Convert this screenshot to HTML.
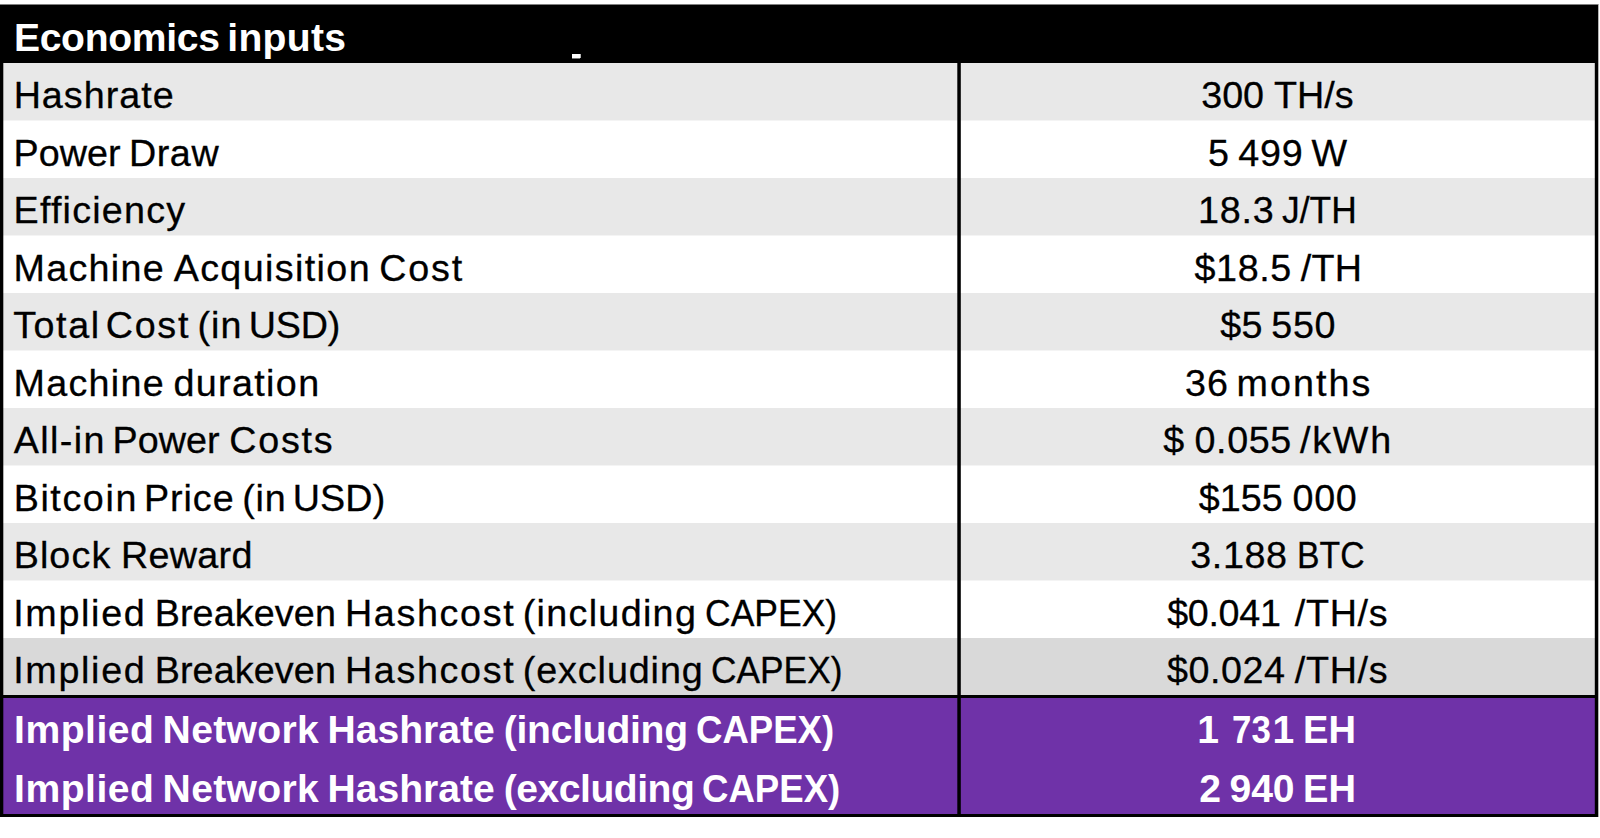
<!DOCTYPE html>
<html lang="en"><head><meta charset="utf-8"><title>Economics inputs</title>
<style>
html,body{margin:0;padding:0;background:#fff;}
body{width:1600px;height:838px;position:relative;overflow:hidden;font-family:"Liberation Sans",sans-serif;color:#000;}
.tbl{position:absolute;left:0;top:5px;width:1598px;height:812px;background:#000;}
.te{position:absolute;left:0;top:4px;width:1598px;height:1px;background:rgba(0,0,0,.5);}
.re{position:absolute;left:1598px;top:4px;width:1px;height:813px;background:rgba(0,0,0,.3);}
.hd{position:absolute;left:0;top:0;width:1598px;height:58px;background:#000;color:#fff;font-weight:bold;}
.r{position:absolute;left:3px;width:1592px;height:57.4545px;}
.m{position:absolute;left:3px;width:1592px;height:1px;background:#f4f4f4;}
.g{background:#e8e8e8}.w{background:#fff}.d{background:#d9d9d9}
.p{background:#6f32a8;color:#fff;font-weight:bold;}
.vl{position:absolute;left:957px;top:58px;width:4px;height:751px;background:linear-gradient(to right,rgba(0,0,0,.7) 0,rgba(0,0,0,.7) 1px,#000 1px,#000 3px,rgba(0,0,0,.8) 3px,rgba(0,0,0,.8) 4px);}
.c{position:absolute;left:0;width:100%;height:40px;white-space:nowrap;font-size:37.7px;line-height:40px;-webkit-text-stroke:0.3px currentColor;}
.hd .c,.p .c{font-size:39.1px;-webkit-text-stroke:0;}
.t{position:absolute;top:0;transform-origin:0 0;}
.le{position:absolute;left:3px;top:58px;width:1px;height:751px;background:rgba(0,0,0,.3);}
.ri{position:absolute;left:1594px;top:58px;width:1px;height:751px;background:rgba(0,0,0,.2);}
.dash{position:absolute;left:572px;top:49px;width:8px;height:4px;background:#fff;box-shadow:1px 0 0 rgba(255,255,255,.7),0 1px 0 rgba(255,255,255,.45);}
</style></head><body>
<div class="te"></div><div class="re"></div>
<div class="tbl">
<div class="hd"><div class="c" style="top:12.85px"><span class="t" id="h_0" style="left:13.89px;letter-spacing:-0.300px;">Economics</span> <span class="t" id="h_1" style="left:227.33px;letter-spacing:0.280px;">inputs</span></div><div class="dash"></div></div>
<div class="r g" style="top:58px;height:57px"><div class="c" style="top:12.14px"><span class="t" id="a0_0" style="left:10.65px;letter-spacing:1.010px;">Hashrate</span> <span class="t" id="b0_0" style="left:1198.34px;letter-spacing:-0.142px;">300</span> <span class="t" id="b0_1" style="left:1271.09px;letter-spacing:0.001px;">TH/s</span></div></div>
<div class="r w" style="top:115px;height:58px"><div class="c" style="top:12.64px"><span class="t" id="a1_0" style="left:10.58px;letter-spacing:0.016px;">Power</span> <span class="t" id="a1_1" style="left:125.94px;letter-spacing:0.572px;">Draw</span> <span class="t" id="b1_0" style="left:1205.04px;">5</span> <span class="t" id="b1_1" style="left:1235.33px;letter-spacing:0.715px;">499</span> <span class="t" id="b1_2" style="left:1308.58px;">W</span></div></div>
<div class="m" style="top:115px"></div>
<div class="r g" style="top:173px;height:57px"><div class="c" style="top:12.14px"><span class="t" id="a2_0" style="left:10.59px;letter-spacing:1.211px;">Efficiency</span> <span class="t" id="b2_0" style="left:1195.01px;letter-spacing:0.803px;">18.3</span> <span class="t" id="b2_1" style="left:1279.26px;transform:scaleX(0.9387);">J/TH</span></div></div>
<div class="r w" style="top:230px;height:58px"><div class="c" style="top:12.64px"><span class="t" id="a3_0" style="left:10.58px;letter-spacing:1.273px;">Machine</span> <span class="t" id="a3_1" style="left:170.64px;letter-spacing:1.377px;">Acquisition</span> <span class="t" id="a3_2" style="left:376.23px;letter-spacing:1.815px;">Cost</span> <span class="t" id="b3_0" style="left:1191.52px;letter-spacing:0.603px;">$18.5</span> <span class="t" id="b3_1" style="left:1297.80px;letter-spacing:0.288px;">/TH</span></div></div>
<div class="m" style="top:230px"></div>
<div class="r g" style="top:288px;height:57px"><div class="c" style="top:12.14px"><span class="t" id="a4_0" style="left:10.19px;letter-spacing:1.556px;">Total</span> <span class="t" id="a4_1" style="left:102.66px;letter-spacing:1.770px;">Cost</span> <span class="t" id="a4_2" style="left:194.39px;letter-spacing:1.063px;">(in</span> <span class="t" id="a4_3" style="left:245.68px;letter-spacing:-0.186px;">USD)</span> <span class="t" id="b4_0" style="left:1217.26px;letter-spacing:0.357px;">$5</span> <span class="t" id="b4_1" style="left:1268.32px;letter-spacing:0.666px;">550</span></div></div>
<div class="r w" style="top:345px;height:58px"><div class="c" style="top:12.64px"><span class="t" id="a5_0" style="left:10.58px;letter-spacing:1.273px;">Machine</span> <span class="t" id="a5_1" style="left:170.40px;letter-spacing:1.361px;">duration</span> <span class="t" id="b5_0" style="left:1182.06px;letter-spacing:1.092px;">36</span> <span class="t" id="b5_1" style="left:1233.45px;letter-spacing:2.055px;">months</span></div></div>
<div class="m" style="top:345px"></div>
<div class="r g" style="top:403px;height:57px"><div class="c" style="top:12.14px"><span class="t" id="a6_0" style="left:10.76px;letter-spacing:1.376px;">All-in</span> <span class="t" id="a6_1" style="left:109.59px;letter-spacing:0.014px;">Power</span> <span class="t" id="a6_2" style="left:226.24px;letter-spacing:1.746px;">Costs</span> <span class="t" id="b6_0" style="left:1160.32px;">$</span> <span class="t" id="b6_1" style="left:1191.45px;letter-spacing:0.633px;">0.055</span> <span class="t" id="b6_2" style="left:1297.06px;letter-spacing:1.752px;">/kWh</span></div></div>
<div class="r w" style="top:460px;height:58px"><div class="c" style="top:12.64px"><span class="t" id="a7_0" style="left:10.65px;letter-spacing:1.601px;">Bitcoin</span> <span class="t" id="a7_1" style="left:140.94px;letter-spacing:0.951px;">Price</span> <span class="t" id="a7_2" style="left:239.37px;letter-spacing:0.699px;">(in</span> <span class="t" id="a7_3" style="left:289.79px;letter-spacing:0.107px;">USD)</span> <span class="t" id="b7_0" style="left:1195.86px;letter-spacing:0.044px;">$155</span> <span class="t" id="b7_1" style="left:1289.61px;letter-spacing:0.662px;">000</span></div></div>
<div class="m" style="top:460px"></div>
<div class="r g" style="top:518px;height:57px"><div class="c" style="top:12.14px"><span class="t" id="a8_0" style="left:10.65px;letter-spacing:1.108px;">Block</span> <span class="t" id="a8_1" style="left:118.05px;letter-spacing:0.294px;">Reward</span> <span class="t" id="b8_0" style="left:1187.29px;letter-spacing:0.607px;">3.188</span> <span class="t" id="b8_1" style="left:1293.64px;transform:scaleX(0.8959);">BTC</span></div></div>
<div class="r w" style="top:575px;height:58px"><div class="c" style="top:12.64px"><span class="t" id="a9_0" style="left:10.15px;letter-spacing:1.686px;">Implied</span> <span class="t" id="a9_1" style="left:151.63px;letter-spacing:0.134px;">Breakeven</span> <span class="t" id="a9_2" style="left:341.94px;letter-spacing:1.657px;">Hashcost</span> <span class="t" id="a9_3" style="left:519.68px;letter-spacing:1.318px;">(including</span> <span class="t" id="a9_4" style="left:701.71px;transform:scaleX(0.9420);">CAPEX)</span> <span class="t" id="b9_0" style="left:1164.15px;letter-spacing:-0.306px;">$0.041</span> <span class="t" id="b9_1" style="left:1291.74px;letter-spacing:0.709px;">/TH/s</span></div></div>
<div class="m" style="top:575px"></div>
<div class="r d" style="top:633px;height:57px"><div class="c" style="top:12.14px"><span class="t" id="a10_0" style="left:10.15px;letter-spacing:1.687px;">Implied</span> <span class="t" id="a10_1" style="left:151.66px;letter-spacing:0.132px;">Breakeven</span> <span class="t" id="a10_2" style="left:341.96px;letter-spacing:1.650px;">Hashcost</span> <span class="t" id="a10_3" style="left:519.75px;letter-spacing:0.912px;">(excluding</span> <span class="t" id="a10_4" style="left:707.68px;transform:scaleX(0.9368);">CAPEX)</span> <span class="t" id="b10_0" style="left:1164.09px;letter-spacing:0.537px;">$0.024</span> <span class="t" id="b10_1" style="left:1291.76px;letter-spacing:0.703px;">/TH/s</span></div></div>
<div class="r p" style="top:693.00px;height:58px"><div class="c" style="top:11.75px"><span class="t" id="pa0_0" style="left:11.05px;letter-spacing:0.526px;">Implied</span> <span class="t" id="pa0_1" style="left:159.60px;letter-spacing:0.323px;">Network</span> <span class="t" id="pa0_2" style="left:324.60px;letter-spacing:-0.019px;">Hashrate</span> <span class="t" id="pa0_3" style="left:500.74px;letter-spacing:-0.258px;">(including</span> <span class="t" id="pa0_4" style="left:693.41px;transform:scaleX(0.9360);">CAPEX)</span> <span class="t" id="pb0_0" style="left:1194.22px;">1</span> <span class="t" id="pb0_1" style="left:1228.55px;transform:scaleX(0.8920);">73</span><span class="t" id="pb0_2" style="left:1269.39px;">1</span> <span class="t" id="pb0_3" style="left:1299.66px;transform:scaleX(0.9739);">EH</span></div></div>
<div class="r p" style="top:751.00px;height:58px"><div class="c" style="top:12.75px"><span class="t" id="pa1_0" style="left:11.05px;letter-spacing:0.526px;">Implied</span> <span class="t" id="pa1_1" style="left:159.60px;letter-spacing:0.323px;">Network</span> <span class="t" id="pa1_2" style="left:324.60px;letter-spacing:-0.019px;">Hashrate</span> <span class="t" id="pa1_3" style="left:500.70px;letter-spacing:-0.471px;">(excluding</span> <span class="t" id="pa1_4" style="left:699.41px;transform:scaleX(0.9361);">CAPEX)</span> <span class="t" id="pb1_0" style="left:1196.23px;">2</span> <span class="t" id="pb1_1" style="left:1226.54px;letter-spacing:-0.133px;">940</span> <span class="t" id="pb1_2" style="left:1299.66px;transform:scaleX(0.9739);">EH</span></div></div>
<div class="le"></div><div class="ri"></div><div class="vl"></div>
</div></body></html>
